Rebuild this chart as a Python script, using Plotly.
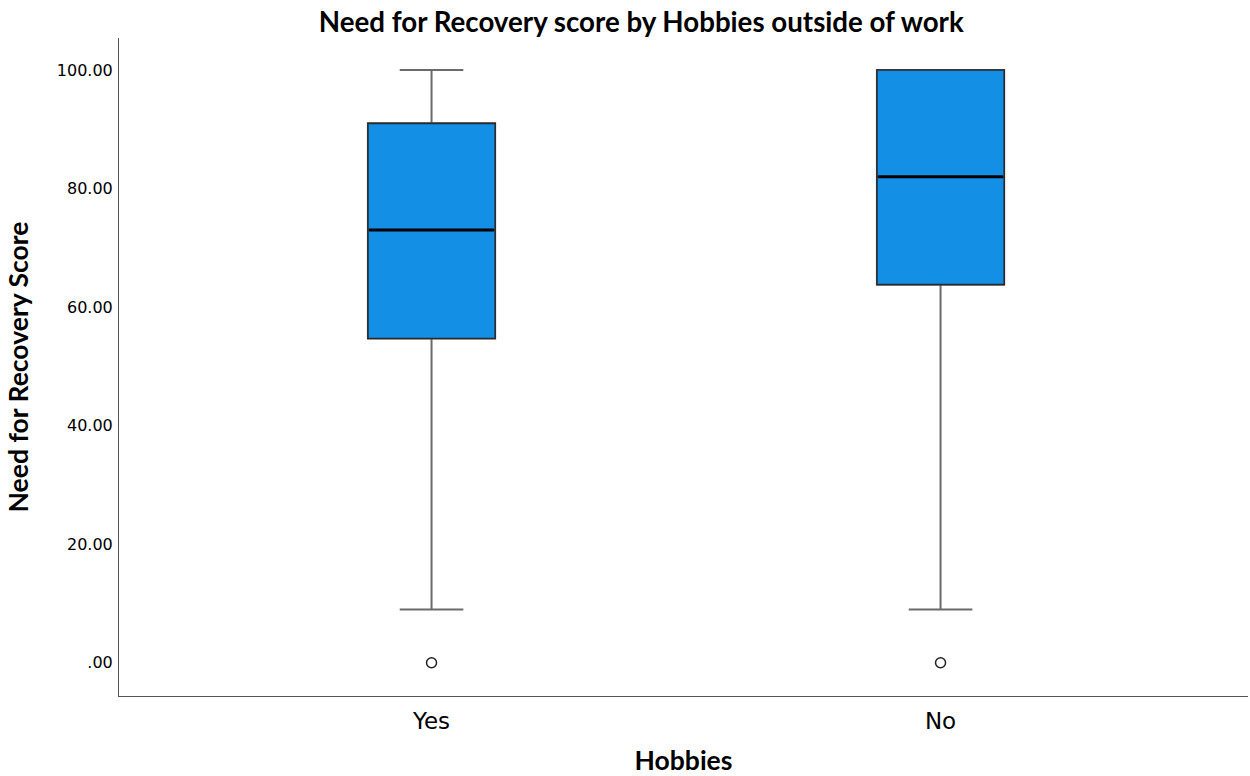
import plotly.graph_objects as go

categories = ["Yes", "No"]
q1 = [54.7, 63.8]
median = [73.0, 82.0]
q3 = [91.0, 100.0]
lower_whisker = [9.0, 9.0]
upper_whisker = [100.0, 100.0]
outlier_x = ["Yes", "No"]
outlier_y = [0.0, 0.0]
tick_vals = [0, 20, 40, 60, 80, 100]
tick_text = [".00", "20.00", "40.00", "60.00", "80.00", "100.00"]

fill = "#138fe6"

fig = go.Figure()
# whiskers (gray)
fig.add_trace(go.Box(
    x=categories, q1=q1, median=median, q3=q3,
    lowerfence=lower_whisker, upperfence=upper_whisker,
    fillcolor=fill, line=dict(color="#6b6b6b", width=2),
    whiskerwidth=0.5, width=0.25, boxpoints=False, showlegend=False,
    hoverinfo="skip",
))
# box outline (dark)
fig.add_trace(go.Box(
    x=categories, q1=q1, median=median, q3=q3,
    lowerfence=q1, upperfence=q3,
    fillcolor=fill, line=dict(color="#2a2a2a", width=1.6),
    whiskerwidth=0, width=0.25, boxpoints=False, showlegend=False,
))
# thicker median line
fig.add_trace(go.Box(
    x=categories, q1=median, median=median, q3=median,
    lowerfence=median, upperfence=median,
    fillcolor="rgba(0,0,0,0)", line=dict(color="#000000", width=3),
    whiskerwidth=0, width=0.245, boxpoints=False, showlegend=False,
    hoverinfo="skip",
))
fig.add_trace(go.Scatter(
    x=outlier_x, y=outlier_y, mode="markers",
    marker=dict(symbol="circle-open", size=10, color="#222222", line=dict(width=1.5)),
    showlegend=False,
))

fig.update_layout(
    width=1250, height=776,
    paper_bgcolor="white", plot_bgcolor="white",
    margin=dict(l=119, r=2, t=38, b=80),
    boxmode="overlay",
    title=dict(text="<b>Need for Recovery score by Hobbies outside of work</b>",
               x=0.513, xanchor="center", y=0.971, yanchor="middle",
               font=dict(family="Lato", size=27.7, color="black")),
    xaxis=dict(
        range=[-0.614, 1.604], showgrid=False, zeroline=False, automargin=False,
        showline=True, linecolor="#555555", linewidth=1, ticks="",
        ticklabelstandoff=4,
        tickfont=dict(family="DejaVu Sans", size=23, color="black"),
        title=dict(text="<b>Hobbies</b>", font=dict(family="Lato", size=26.5, color="black"), standoff=30),
    ),
    yaxis=dict(
        range=[-5.6, 105.4], showgrid=False, zeroline=False, automargin=False,
        showline=True, linecolor="#555555", linewidth=1, ticks="",
        tickvals=tick_vals, ticktext=tick_text, ticklabelstandoff=2,
        tickfont=dict(family="DejaVu Sans", size=16, color="black"),
        title=dict(text="<b>Need for Recovery Score</b>", font=dict(family="Lato", size=26.5, color="black"), standoff=20),
    ),
)

fig.write_html("out.html")
